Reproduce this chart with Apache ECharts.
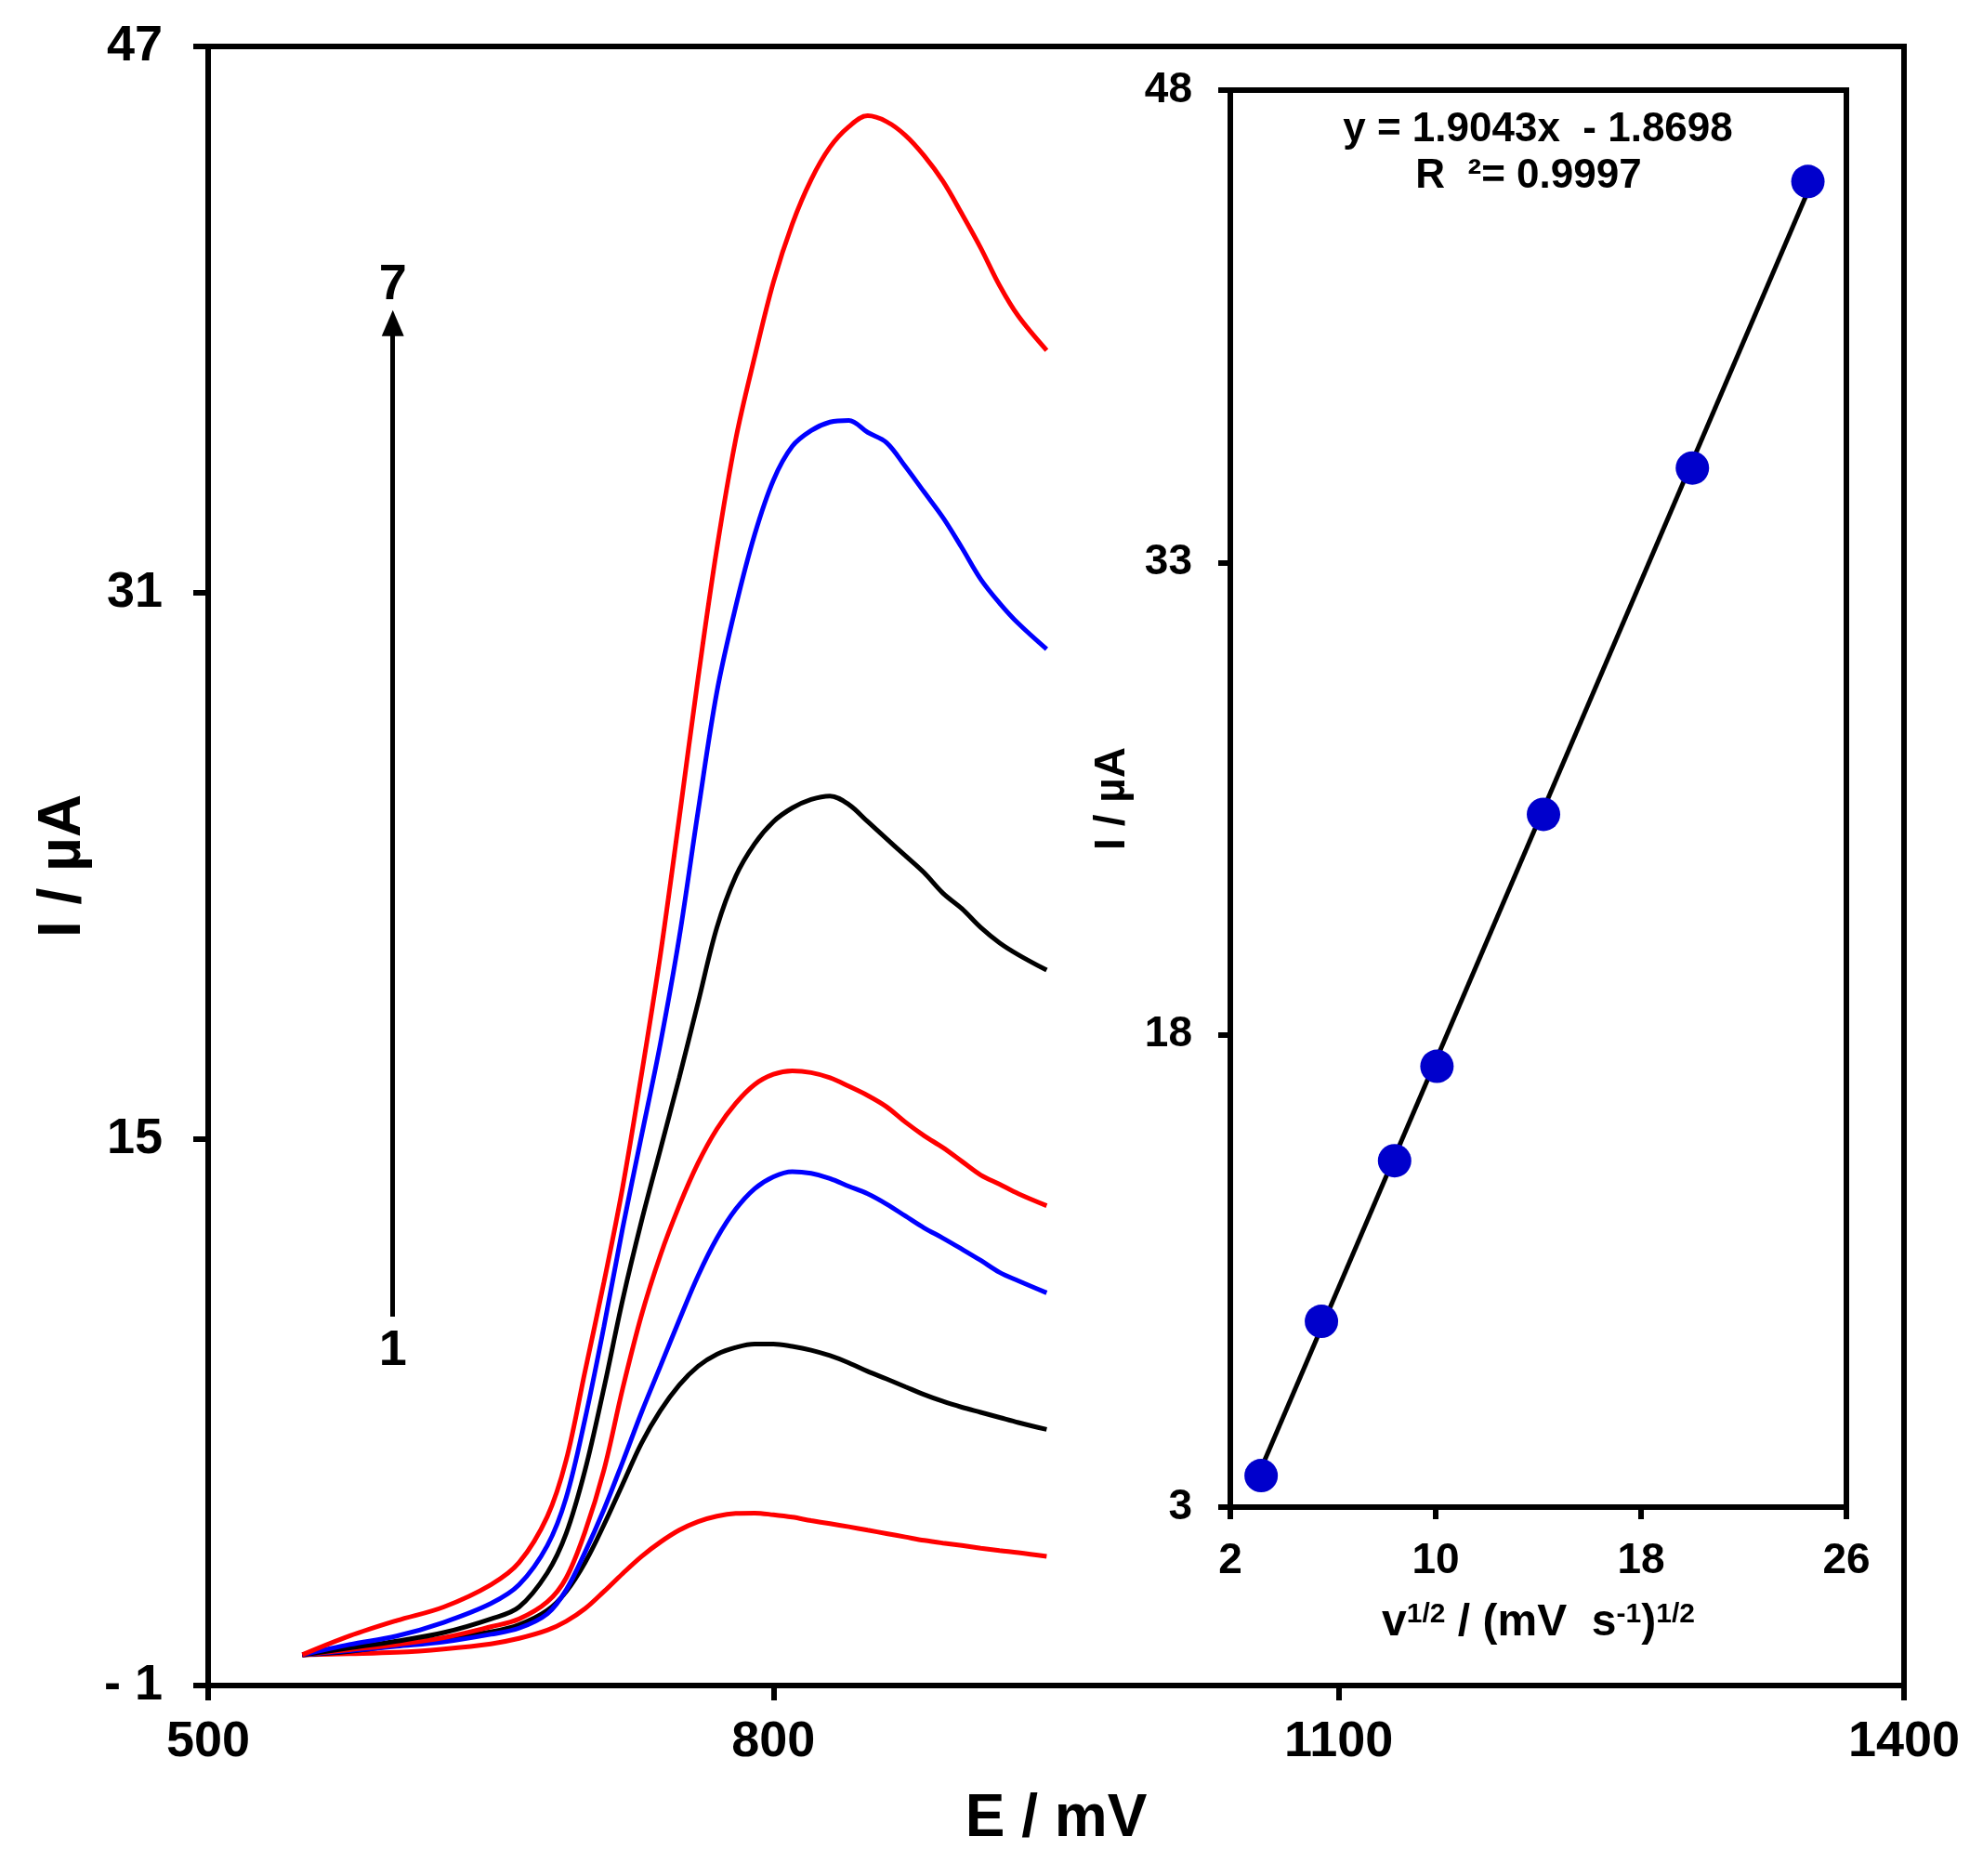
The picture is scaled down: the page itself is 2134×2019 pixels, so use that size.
<!DOCTYPE html>
<html>
<head>
<meta charset="utf-8">
<title>I vs E</title>
<script src="https://cdn.jsdelivr.net/npm/echarts@6/dist/echarts.min.js"></script>
<style>
    html, body {margin: 0; padding: 0; background: #fff;}
    #main {width: 2134px; height: 2019px;}
</style>
</head>
<body>
<div id="main"></div>
<script>
// voltammograms, [E (mV), I (uA)], curve 1 = lowest
var curve1 = [[550, -0.1], [575, -0.07], [600, -0.03], [625, 0.07], [650, 0.22], [665, 0.38], [680, 0.62], [690, 0.88],
    [700, 1.25], [710, 1.75], [720, 2.28], [730, 2.78], [740, 3.2], [750, 3.55], [760, 3.8], [770, 3.96], [780, 4.04],
    [790, 4.05], [800, 4.0], [810, 3.93], [820, 3.83], [830, 3.74], [840, 3.65], [850, 3.55], [860, 3.45], [870, 3.35],
    [880, 3.25], [890, 3.17], [900, 3.1], [910, 3.02], [920, 2.95], [930, 2.89], [945, 2.78]];
var curve2 = [[550, -0.1], [575, 0.0], [600, 0.18], [625, 0.36], [650, 0.57], [665, 0.78], [680, 1.2], [690, 1.75],
    [700, 2.6], [710, 3.7], [720, 4.9], [730, 6.1], [740, 7.05], [750, 7.8], [760, 8.35], [770, 8.7], [780, 8.9],
    [790, 9.0], [800, 9.0], [810, 8.93], [820, 8.82], [830, 8.66], [840, 8.45], [850, 8.2], [860, 7.98], [870, 7.75],
    [880, 7.52], [890, 7.32], [900, 7.15], [910, 7.0], [920, 6.85], [930, 6.7], [945, 6.5]];
var curve3 = [[550, -0.1], [575, 0.02], [600, 0.15], [625, 0.28], [650, 0.5], [665, 0.68], [680, 1.1], [690, 1.8],
    [700, 2.9], [710, 4.15], [720, 5.55], [730, 7.0], [740, 8.35], [750, 9.7], [760, 11.0], [770, 12.1], [780, 12.95],
    [790, 13.55], [800, 13.9], [810, 14.05], [820, 14.0], [830, 13.85], [840, 13.62], [850, 13.4], [860, 13.1],
    [870, 12.75], [880, 12.4], [890, 12.1], [900, 11.78], [910, 11.45], [920, 11.1], [930, 10.85], [945, 10.5]];
var curve4 = [[550, -0.1], [575, 0.05], [600, 0.2], [625, 0.4], [650, 0.72], [665, 0.95], [680, 1.45], [690, 2.15],
    [700, 3.5], [710, 5.3], [720, 7.7], [730, 9.85], [740, 11.6], [750, 13.05], [760, 14.3], [770, 15.3], [780, 16.05],
    [790, 16.6], [800, 16.9], [810, 17.0], [820, 16.95], [830, 16.8], [840, 16.55], [850, 16.28], [860, 15.95],
    [870, 15.5], [880, 15.1], [890, 14.75], [900, 14.35], [910, 13.95], [920, 13.68], [930, 13.4], [945, 13.05]];
var curve5 = [[550, -0.1], [575, 0.1], [600, 0.3], [625, 0.55], [650, 0.95], [665, 1.3], [680, 2.3], [690, 3.45],
    [700, 5.3], [710, 7.7], [720, 10.3], [730, 12.6], [740, 14.7], [750, 16.8], [760, 19.0], [770, 21.2], [780, 22.7],
    [790, 23.65], [800, 24.3], [810, 24.7], [820, 24.95], [830, 25.05], [840, 24.8], [850, 24.3], [860, 23.8],
    [870, 23.3], [880, 22.8], [890, 22.2], [900, 21.75], [910, 21.2], [920, 20.75], [930, 20.4], [945, 19.95]];
var curve6 = [[550, -0.1], [575, 0.2], [600, 0.45], [625, 0.85], [650, 1.4], [665, 1.95], [680, 3.1], [690, 4.5],
    [700, 6.8], [710, 9.5], [720, 12.4], [730, 15.1], [740, 17.8], [750, 20.9], [760, 24.6], [770, 28.1], [780, 30.6],
    [790, 32.7], [800, 34.3], [810, 35.29], [820, 35.75], [830, 36.0], [840, 36.05], [850, 35.7], [860, 35.4],
    [870, 34.7], [880, 33.95], [890, 33.2], [900, 32.32], [910, 31.4], [920, 30.7], [930, 30.1], [945, 29.35]];
var curve7 = [[550, -0.1], [575, 0.45], [600, 0.9], [625, 1.3], [650, 1.95], [665, 2.6], [680, 3.95], [690, 5.6],
    [700, 8.2], [710, 10.8], [720, 13.6], [730, 16.9], [740, 20.4], [750, 24.4], [760, 28.5], [770, 32.3], [780, 35.5],
    [790, 37.9], [800, 40.1], [810, 41.8], [820, 43.1], [830, 44.05], [840, 44.65], [850, 44.97], [860, 44.8],
    [870, 44.4], [880, 43.8], [890, 43.05], [900, 42.1], [910, 41.1], [920, 40.0], [930, 39.1], [945, 38.1]];
var curves = [curve1, curve2, curve3, curve4, curve5, curve6, curve7];
var curveColors = ['#ff0000', '#000000', '#0000ff', '#ff0000', '#000000', '#0000ff', '#ff0000'];

// inset: peak current vs square root of scan rate
var sqrtRate = [3.2, 5.55, 8.4, 10.05, 14.2, 20.0, 24.5];
var peakCurrent = [4.0, 8.9, 14.0, 17.0, 25.0, 36.0, 45.1];
var fitSlope = 1.9043;
var fitIntercept = -1.8698;
var fitRange = [3.3, 24.5];

// tick labels
var mainXTicks = [500, 800, 1100, 1400];
var mainYTicks = [-1, 15, 31, 47];
var insetXTicks = [2, 10, 18, 26];
var insetYTicks = [3, 18, 33, 48];

// arrow 1 -> 7
var arrowE = 598;
var arrowFrom = 9.8;
var arrowTo = 38.9;
var arrowLabels = [[598, 8.8, '1'], [598, 40.0, '7']];

var FONT = "'Liberation Sans', Arial, sans-serif";
var NARROW = "'Liberation Sans Narrow', 'Arial Narrow', 'Liberation Sans', Arial, sans-serif";

function plainLabel(v) {
    return v < 0 ? '- ' + (-v) : String(v);
}

var series = [];
curves.forEach(function (c, i) {
    series.push({
        type: 'line',
        xAxisIndex: 0,
        yAxisIndex: 0,
        data: c,
        showSymbol: false,
        smooth: 0.35,
        lineStyle: {color: curveColors[i], width: 5},
        z: 3
    });
});

// arrow and its labels
series.push({
    type: 'scatter',
    xAxisIndex: 0,
    yAxisIndex: 0,
    data: arrowLabels,
    symbolSize: 0,
    label: {
        show: true,
        position: [0, 0],
        align: 'center',
        verticalAlign: 'middle',
        formatter: function (p) {
            return p.value[2];
        },
        fontFamily: FONT,
        fontWeight: 'bold',
        fontSize: 54,
        color: '#000000',
        opacity: 1
    },
    markLine: {
        silent: true,
        symbol: ['none', 'triangle'],
        symbolSize: [24, 28],
        label: {show: false},
        lineStyle: {color: '#000', width: 5, type: 'solid'},
        data: [[{coord: [arrowE, arrowFrom]}, {coord: [arrowE, arrowTo]}]]
    }
});

// inset fit line
series.push({
    type: 'line',
    xAxisIndex: 1,
    yAxisIndex: 1,
    data: fitRange.map(function (x) {
        return [x, fitSlope * x + fitIntercept];
    }),
    showSymbol: false,
    lineStyle: {color: '#000', width: 5},
    z: 3
});
series.push({
    type: 'scatter',
    xAxisIndex: 1,
    yAxisIndex: 1,
    data: sqrtRate.map(function (x, i) {
        return [x, peakCurrent[i]];
    }),
    symbolSize: 36,
    itemStyle: {color: '#0000cc', opacity: 1},
    z: 4
});

var option = {
    animation: false,
    backgroundColor: '#fff',
    grid: [
        {left: 224, right: 85, top: 50, bottom: 205, show: true, borderColor: '#000', borderWidth: 6},
        {left: 1324, right: 147, top: 97, bottom: 397, show: true, borderColor: '#000', borderWidth: 6}
    ],
    xAxis: [{
        gridIndex: 0,
        type: 'value',
        min: 500,
        max: 1400,
        name: 'E / mV',
        nameLocation: 'middle',
        nameGap: 112,
        nameTextStyle: {fontFamily: FONT, fontWeight: 'bold', fontSize: 64, color: '#000'},
        axisLine: {show: true, onZero: false, lineStyle: {color: '#000', width: 6}},
        axisTick: {show: true, length: 16, customValues: mainXTicks, lineStyle: {color: '#000', width: 6}},
        axisLabel: {margin: 34, customValues: mainXTicks, formatter: plainLabel, fontFamily: FONT, fontWeight: 'bold', fontSize: 54, color: '#000'},
        splitLine: {show: false}
    }, {
        gridIndex: 1,
        type: 'value',
        min: 2,
        max: 26,
        name: '{b|v}{s|1/2}{b| / (mV  s}{s|-1}{b|)}{s|1/2}',
        nameLocation: 'middle',
        nameGap: 101,
        nameTextStyle: {
            rich: {
                b: {fontFamily: NARROW, fontWeight: 'bold', fontSize: 48, color: '#000'},
                s: {fontFamily: NARROW, fontWeight: 'bold', fontSize: 30, color: '#000', verticalAlign: 'top'}
            }
        },
        axisLine: {show: true, onZero: false, lineStyle: {color: '#000', width: 6}},
        axisTick: {show: true, length: 13, customValues: insetXTicks, lineStyle: {color: '#000', width: 6}},
        axisLabel: {margin: 35, customValues: insetXTicks, formatter: plainLabel, fontFamily: NARROW, fontWeight: 'bold', fontSize: 46, color: '#000'},
        splitLine: {show: false}
    }],
    yAxis: [{
        gridIndex: 0,
        type: 'value',
        min: -1,
        max: 47,
        name: 'I / µA',
        nameLocation: 'middle',
        nameGap: 124,
        nameTextStyle: {fontFamily: FONT, fontWeight: 'bold', fontSize: 64, color: '#000'},
        axisLine: {show: true, onZero: false, lineStyle: {color: '#000', width: 6}},
        axisTick: {show: true, length: 16, customValues: mainYTicks, lineStyle: {color: '#000', width: 6}},
        axisLabel: {margin: 49, customValues: mainYTicks, formatter: plainLabel, fontFamily: FONT, fontWeight: 'bold', fontSize: 54, color: '#000'},
        splitLine: {show: false}
    }, {
        gridIndex: 1,
        type: 'value',
        min: 3,
        max: 48,
        name: 'I / µA',
        nameLocation: 'middle',
        nameGap: 104,
        nameTextStyle: {fontFamily: NARROW, fontWeight: 'bold', fontSize: 46, color: '#000'},
        axisLine: {show: true, onZero: false, lineStyle: {color: '#000', width: 6}},
        axisTick: {show: true, length: 13, customValues: insetYTicks, lineStyle: {color: '#000', width: 6}},
        axisLabel: {margin: 41, customValues: insetYTicks, formatter: plainLabel, fontFamily: NARROW, fontWeight: 'bold', fontSize: 46, color: '#000'},
        splitLine: {show: false}
    }],
    graphic: [{
        type: 'text',
        x: 1655,
        y: 140,
        style: {
            text: 'y = 1.9043x  - 1.8698',
            font: 'bold 44px ' + NARROW,
            fill: '#000',
            align: 'center',
            verticalAlign: 'middle'
        }
    }, {
        type: 'text',
        x: 1645,
        y: 190,
        style: {
            text: 'R  \u00b2= 0.9997',
            font: 'bold 44px ' + NARROW,
            fill: '#000',
            align: 'center',
            verticalAlign: 'middle'
        }
    }],
    series: series
};

var myChart = echarts.init(document.getElementById('main'));
myChart.setOption(option);
</script>
</body>
</html>
